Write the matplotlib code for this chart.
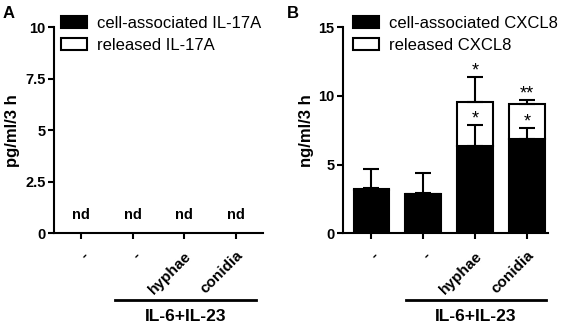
import numpy as np
import matplotlib
matplotlib.use("Agg")
import matplotlib.pyplot as plt
from matplotlib.patches import Patch

plt.rcParams['font.family'] = ['Liberation Sans', 'DejaVu Sans']

# categories (same for both panels)
groups = ['-', '-', 'hyphae', 'conidia']

# panel A: IL-17A not detected in any group
il17_labels = ['nd', 'nd', 'nd', 'nd']

# panel B: CXCL8, ng/ml/3 h (mean + SD, upper only)
cell = [3.15, 2.84, 6.36, 6.89]
cell_err = [0.15, 0.12, 1.50, 0.75]
released = [0.05, 0.05, 3.18, 2.53]
released_err = [1.46, 1.48, 1.86, 0.26]
cell_stars = ['', '', '*', '*']
released_stars = ['', '', '*', '**']

fig = plt.figure(figsize=(5.61, 3.23), dpi=100)
axA = fig.add_axes([0.0963, 0.2777, 0.3725, 0.638])
axB = fig.add_axes([0.6114, 0.2777, 0.3654, 0.638])

x = np.arange(len(groups))
bw = 0.69
lw = 1.5


def style_axis(ax, ymax, yticks, ylabel):
    ax.set_ylim(0, ymax)
    ax.set_yticks(yticks)
    ax.set_yticklabels([('%g' % t) for t in yticks], fontsize=10.5, fontweight='bold')
    ax.set_xticks(x)
    ax.set_xticklabels(groups, rotation=45, ha='right', rotation_mode='anchor',
                       fontsize=11, fontweight='bold')
    for s in ['top', 'right']:
        ax.spines[s].set_visible(False)
    for s in ['left', 'bottom']:
        ax.spines[s].set_linewidth(lw)
    ax.tick_params(width=lw, length=4, pad=2)
    ax.tick_params(axis='x', length=4, pad=7)
    ax.set_ylabel(ylabel, fontsize=12, fontweight='bold')
    # IL-6+IL-23 bracket under the last three groups
    tr = ax.get_xaxis_transform()
    ax.plot([0.66, 3.38], [-0.322, -0.322], color='black', lw=2, transform=tr, clip_on=False)
    ax.text(2.02, -0.405, 'IL-6+IL-23', transform=tr, ha='center', va='center',
            fontsize=12.5, fontweight='bold')


def add_legend(ax, labels, xa):
    h = [Patch(facecolor='black', edgecolor='black', lw=lw),
         Patch(facecolor='white', edgecolor='black', lw=lw)]
    ax.legend(h, labels, loc='upper left', bbox_to_anchor=(xa, 1.055),
              frameon=False, fontsize=12, handlelength=1.55, handleheight=0.7,
              handletextpad=0.6, labelspacing=0.4, borderaxespad=0, borderpad=0)


# ---- panel A ----
axA.set_xlim(-0.52, 3.52)
style_axis(axA, 10, [0, 2.5, 5, 7.5, 10], 'pg/ml/3 h')
axA.yaxis.set_label_coords(-0.165, 0.5)
for xi, t in zip(x, il17_labels):
    axA.text(xi, 0.9, t, ha='center', va='center', fontsize=10.5, fontweight='bold')
add_legend(axA, ['cell-associated IL-17A', 'released IL-17A'], 0.035)

# ---- panel B ----
axB.set_xlim(-0.55, 3.41)
axB.bar(x, cell, bw, color='black', edgecolor='black', lw=lw, zorder=2)
axB.bar(x, released, bw, bottom=cell, color='white', edgecolor='black', lw=lw, zorder=2)
top = np.array(cell) + np.array(released)
axB.errorbar(x, cell, yerr=[np.zeros(4), cell_err], fmt='none', ecolor='black',
             elinewidth=lw, capsize=5.8, capthick=lw, zorder=3)
axB.errorbar(x, top, yerr=[np.zeros(4), released_err], fmt='none', ecolor='black',
             elinewidth=lw, capsize=5.8, capthick=lw, zorder=3)
for xi, c, ce, s in zip(x, cell, cell_err, cell_stars):
    if s:
        axB.text(xi, c + ce + 0.1, s, ha='center', va='baseline', fontsize=13)
for xi, t, te, s in zip(x, top, released_err, released_stars):
    if s:
        axB.text(xi, t + te + 0.1, s, ha='center', va='baseline', fontsize=13)
style_axis(axB, 15, [0, 5, 10, 15], 'ng/ml/3 h')
axB.yaxis.set_label_coords(-0.14, 0.5)
add_legend(axB, ['cell-associated CXCL8', 'released CXCL8'], 0.05)

fig.text(0.004, 0.958, 'A', fontsize=12, fontweight='bold', va='center')
fig.text(0.512, 0.958, 'B', fontsize=12, fontweight='bold', va='center')

fig.savefig('out.png', dpi=100)
